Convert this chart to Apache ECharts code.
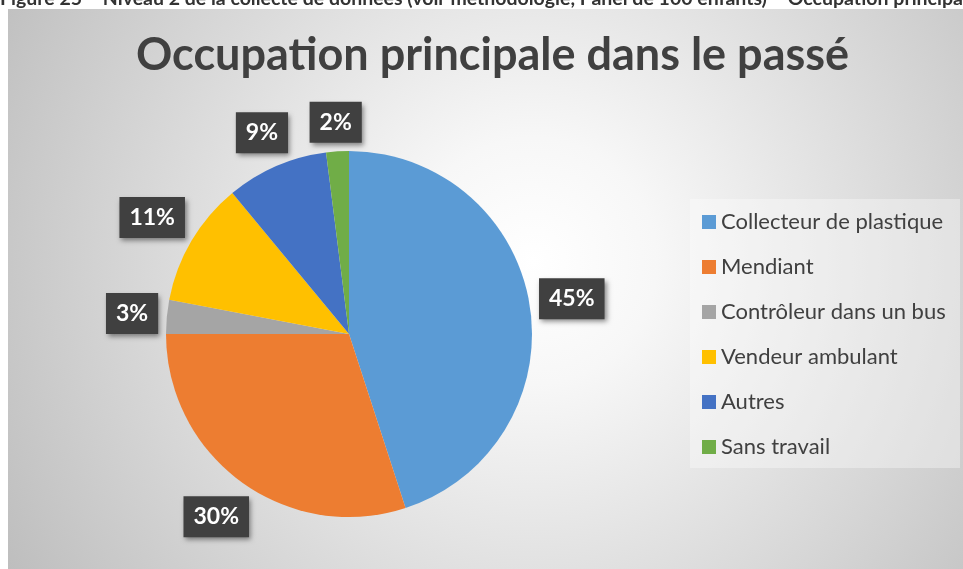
<!DOCTYPE html>
<html><head><meta charset="utf-8">
<script src="https://cdn.jsdelivr.net/npm/echarts@6/dist/echarts.min.js"></script>
<style>html,body{margin:0;padding:0;background:#fff;overflow:hidden}#c{width:963px;height:569px}</style>
</head><body><div id="c"></div>
<script>
const categories = ['Collecteur de plastique','Mendiant','Contrôleur dans un bus','Vendeur ambulant','Autres','Sans travail'];
const shares = [45, 30, 3, 11, 9, 2];
const colors = ['#5B9BD5','#ED7D31','#A5A5A5','#FFC000','#4472C4','#70AD47'];
const titleText = 'Occupation principale dans le passé';
const captionText = 'Figure 25 – Niveau 2 de la collecte de données (voir méthodologie, Panel de 100 enfants) – Occupation principale dans le passé';

const PIE_CX = 349, PIE_CY = 334, PIE_R = 183, LABEL_GAP = 7;
const total = shares.reduce((a, b) => a + b, 0);
const cum = []; let acc = 0; shares.forEach(v => { cum.push(acc); acc += v; });

const chart = echarts.init(document.getElementById('c'), null, {renderer: 'canvas'});
chart.setOption({
  animation: false,
  color: colors,
  textStyle: {fontFamily: 'Lato'},
  graphic: [
    {type: 'rect', z: -10, silent: true, shape: {x: 8, y: 9, width: 955, height: 560},
     style: {fill: {type: 'radial', x: 0.55, y: 0.45, r: 1.1, colorStops: [
       {offset: 0, color: '#ffffff'}, {offset: 0.2, color: '#f7f7f7'}, {offset: 1, color: '#bdbdbd'}]}}},
    {type: 'rect', z: -5, silent: true, shape: {x: 690, y: 199, width: 270, height: 269},
     style: {fill: 'rgba(255,255,255,0.35)'}},
    {type: 'text', silent: true, x: 0, y: 9,
     style: {text: captionText, font: 'bold 19.5px Lato', fill: '#333333', verticalAlign: 'bottom'}}
  ],
  title: {
    text: titleText, left: 136, top: 33, padding: 0,
    textStyle: {fontFamily: 'Lato', fontSize: 45, fontWeight: 'bold', color: '#404040'}
  },
  legend: {
    orient: 'vertical', left: 702, top: 211, itemWidth: 14, itemHeight: 14, itemGap: 23,
    icon: 'rect', padding: 0, selectedMode: false, data: categories,
    textStyle: {fontFamily: 'Lato', fontSize: 22, lineHeight: 22, color: '#404040'}
  },
  series: [{
    type: 'pie', center: [PIE_CX, PIE_CY], radius: [0, PIE_R], startAngle: 90, clockwise: true,
    avoidLabelOverlap: false, silent: true,
    emphasis: {disabled: true},
    itemStyle: {borderWidth: 0},
    data: categories.map((n, i) => ({name: n, value: shares[i]})),
    label: {
      show: true, position: 'outside',
      formatter: p => Math.round(p.percent) + '%',
      color: '#ffffff', fontFamily: 'Lato', fontSize: 23, fontWeight: 'bold', lineHeight: 23,
      backgroundColor: '#404040', padding: [9, 10, 9, 10],
      shadowColor: 'rgba(0,0,0,0.45)', shadowBlur: 5, shadowOffsetX: 2, shadowOffsetY: 3
    },
    labelLine: {show: false},
    labelLayout: function (p) {
      const i = p.dataIndex;
      const mid = (cum[i] + shares[i] / 2) / total * 2 * Math.PI;
      const ux = Math.sin(mid), uy = -Math.cos(mid);
      const w = p.labelRect.width, h = p.labelRect.height;
      const t = PIE_R + LABEL_GAP + Math.abs(ux) * w / 2 + Math.abs(uy) * h / 2;
      return {x: PIE_CX + ux * t, y: PIE_CY + uy * t, align: 'center', verticalAlign: 'middle'};
    }
  }]
});
</script></body></html>
